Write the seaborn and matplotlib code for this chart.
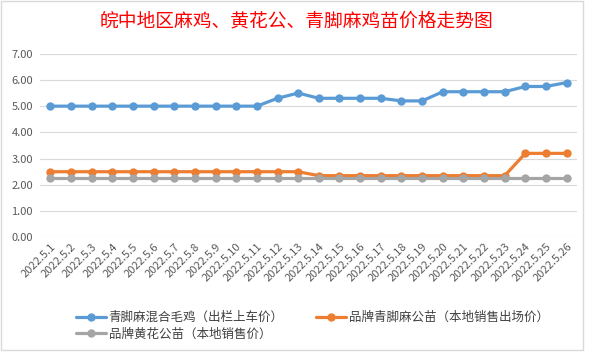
import pandas as pd
import matplotlib.pyplot as plt
import seaborn as sns
from matplotlib.patches import Rectangle

# dates 2022.5.1 - 2022.5.26
dates = ['2022.5.%d' % d for d in range(1, 27)]

# 青脚麻混合毛鸡（出栏上车价）
mixed = [5.0, 5.0, 5.0, 5.0, 5.0, 5.0, 5.0, 5.0, 5.0, 5.0, 5.0, 5.3, 5.5,
         5.3, 5.3, 5.3, 5.3, 5.2, 5.2, 5.55, 5.55, 5.55, 5.55, 5.75, 5.75, 5.9]
# 品牌青脚麻公苗（本地销售出场价）
qingjiao = [2.5, 2.5, 2.5, 2.5, 2.5, 2.5, 2.5, 2.5, 2.5, 2.5, 2.5, 2.5, 2.5,
            2.35, 2.35, 2.35, 2.35, 2.35, 2.35, 2.35, 2.35, 2.35, 2.35, 3.2, 3.2, 3.2]
# 品牌黄花公苗（本地销售价）
huanghua = [2.25] * 26

series_names = ['青脚麻混合毛鸡（出栏上车价）', '品牌青脚麻公苗（本地销售出场价）', '品牌黄花公苗（本地销售价）']
colors = ['#5B9BD5', '#ED7D31', '#A5A5A5']

frames = []
for name, vals in zip(series_names, [mixed, qingjiao, huanghua]):
    frames.append(pd.DataFrame({'date': dates, 'price': vals, 'series': name}))
data = pd.concat(frames, ignore_index=True)

sns.set_style('white')
plt.rcParams['font.family'] = ['Noto Sans CJK SC', 'DejaVu Sans']

fig = plt.figure(figsize=(5.94, 3.53), dpi=100)
ax = fig.add_axes([40 / 594, 1 - 237.3 / 353, 537 / 594, (237.3 - 53.7) / 353])

sns.lineplot(data=data, x='date', y='price', hue='series', hue_order=series_names,
             palette=colors, marker='o', markersize=6, markeredgewidth=0,
             linewidth=2.3, sort=False, ax=ax, legend=False)

ax.set_xlim(-0.5, len(dates) - 0.5)
ax.set_ylim(0, 7)
ax.set_yticks(range(0, 8))
ax.set_yticklabels(['%.2f' % v for v in range(0, 8)])
ax.yaxis.grid(True, color='#D9D9D9', linewidth=0.8)
ax.xaxis.grid(False)
for s in ax.spines.values():
    s.set_visible(False)
ax.set_xlabel('')
ax.set_ylabel('')
ax.tick_params(axis='y', length=0, pad=5, labelsize=8, labelcolor='#595959')
ax.tick_params(axis='x', length=0, pad=3, labelsize=8, labelcolor='#595959')
plt.setp(ax.get_xticklabels(), rotation=45, ha='right', rotation_mode='anchor')

fig.text(296 / 594, 1 - 21 / 353, '皖中地区麻鸡、黄花公、青脚麻鸡苗价格走势图',
         color='#FF0000', fontsize=13.5, ha='center', va='center')

# legend (column-major fill, so order handles to get rows: blue+orange, gray)
order = [0, 2, 1]
handles = [plt.Line2D([], [], color=colors[i], linewidth=2.3, marker='o', markersize=5) for i in order]
labels = [series_names[i] for i in order]
fig.legend(handles, labels, loc='upper left', bbox_to_anchor=(70 / 594, 1 - 305 / 353),
           ncol=2, frameon=False, fontsize=9, handlelength=2.4, handletextpad=0.2,
           columnspacing=2.6, labelspacing=0.25, borderpad=0, labelcolor='#404040')

# chart area border
fig.patches.append(Rectangle((1 / 594, 1 - 350 / 353), 582 / 594, 349 / 353,
                             transform=fig.transFigure, fill=False,
                             edgecolor='#D9D9D9', linewidth=1))

fig.savefig('out.png', dpi=100, facecolor='white')
